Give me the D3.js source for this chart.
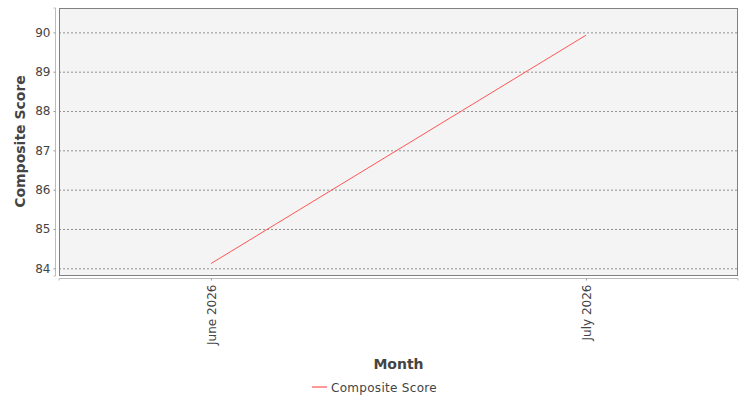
<!DOCTYPE html>
<html>
<head>
<meta charset="utf-8">
<script src="https://cdn.jsdelivr.net/npm/d3@7"></script>
<style>
  body { margin: 0; background: #fff; }
  text { font-family: "DejaVu Sans", sans-serif; }
</style>
</head>
<body>
<div id="chart"></div>
<script>
const months = ["June 2026", "July 2026"];
const scores = [84.12, 89.93];
const yTicks = [84, 85, 86, 87, 88, 89, 90];

const width = 750;
const height = 400;
const plot = { left: 59, top: 8, right: 738, bottom: 275 };

const svg = d3.select("#chart")
    .append("svg")
    .attr("width", width)
    .attr("height", height);

const x = d3.scalePoint()
    .domain(months)
    .range([plot.left, plot.right])
    .padding(0.405);

const y = d3.scaleLinear()
    .domain([83.83, 90.62])
    .range([plot.bottom, plot.top]);

// plot background
svg.append("rect")
    .attr("x", plot.left)
    .attr("y", plot.top)
    .attr("width", plot.right - plot.left)
    .attr("height", plot.bottom - plot.top)
    .attr("fill", "#f4f4f4");

// gridlines
svg.append("g")
  .selectAll("line")
  .data(yTicks)
  .enter().append("line")
    .attr("x1", plot.left)
    .attr("x2", plot.right)
    .attr("y1", d => y(d) + 0.5)
    .attr("y2", d => y(d) + 0.5)
    .attr("stroke", "#777")
    .attr("stroke-width", 0.8)
    .attr("stroke-dasharray", "2,2");

// line
const line = d3.line()
    .x((d, i) => x(months[i]))
    .y(d => y(d));

svg.append("path")
    .datum(scores)
    .attr("d", line)
    .attr("fill", "none")
    .attr("stroke", "#ff5555")
    .attr("stroke-width", 1);

// plot border
svg.append("rect")
    .attr("x", plot.left + 0.5)
    .attr("y", plot.top + 0.5)
    .attr("width", plot.right - plot.left - 1)
    .attr("height", plot.bottom - plot.top)
    .attr("fill", "none")
    .attr("stroke", "#808080");

// y axis
const yAxis = svg.append("g")
    .attr("transform", `translate(${plot.left - 4 + 0.5},0)`)
    .call(d3.axisLeft(y).tickValues(yTicks).tickSize(2).tickPadding(3).tickFormat(d3.format("d")));
yAxis.select(".domain").attr("stroke", "#bbb").attr("d", `M-2,${plot.top}H0V${plot.bottom + 1}H-2`);
yAxis.selectAll(".tick line").attr("stroke", "#999");
yAxis.selectAll(".tick text").attr("fill", "#444").style("font-size", "12px").attr("font-family", "DejaVu Sans");

// x axis
const xAxis = svg.append("g")
    .attr("transform", `translate(0,${plot.bottom + 3 + 0.5})`)
    .call(d3.axisBottom(x).tickSize(2).tickPadding(4));
xAxis.select(".domain").attr("stroke", "#bbb").attr("d", `M${plot.left},2V0H${plot.right}V2`);
xAxis.selectAll(".tick line").attr("stroke", "#999");
xAxis.selectAll(".tick text")
    .attr("fill", "#444")
    .style("font-size", "12px")
    .attr("font-family", "DejaVu Sans")
    .attr("transform", "rotate(-90)")
    .attr("text-anchor", "end")
    .attr("x", -6)
    .attr("y", 0)
    .attr("dy", "0.35em");

// axis titles
svg.append("text")
    .attr("transform", `translate(25,${(plot.top + plot.bottom) / 2}) rotate(-90)`)
    .attr("text-anchor", "middle")
    .attr("fill", "#444")
    .style("font-size", "14px")
    .style("font-weight", "bold")
    .text("Composite Score");

svg.append("text")
    .attr("x", (plot.left + plot.right) / 2)
    .attr("y", 369)
    .attr("text-anchor", "middle")
    .attr("fill", "#444")
    .style("font-size", "14px")
    .style("font-weight", "bold")
    .text("Month");

// legend
const legend = svg.append("g");
legend.append("line")
    .attr("x1", 312).attr("x2", 327)
    .attr("y1", 387).attr("y2", 387)
    .attr("stroke", "#ff5555")
    .attr("stroke-width", 1.2);
legend.append("text")
    .attr("x", 331)
    .attr("y", 391.5)
    .attr("fill", "#444")
    .style("font-size", "12px")
    .style("letter-spacing", "0.3px")
    .text("Composite Score");
</script>
</body>
</html>
